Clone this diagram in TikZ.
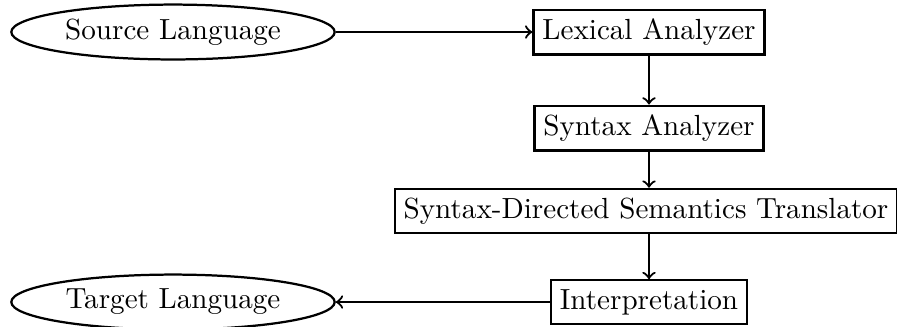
\documentclass[tikz,border=0pt]{standalone}
\usetikzlibrary{shapes.geometric}
\begin{document}
\begin{tikzpicture}[x=0.35714pt,y=-0.35714pt,
  every node/.style={font=\fontsize{10.4pt}{12.5pt}\selectfont},
  box/.style={draw,thick,rectangle,inner sep=3.2pt},
  oval/.style={draw,thick,ellipse,minimum width=115.5pt,minimum height=19.6pt,inner sep=0pt},
  conn/.style={->,thick}]
\useasboundingbox (0,0) rectangle (897,326);
\node[oval] (src) at (173,32) {Source Language};
\node[box] (lex) at (649,32) {Lexical Analyzer};
\node[box] (syn) at (649,128) {Syntax Analyzer};
\node[box] (sdst) at (646,211) {Syntax-Directed Semantics Translator};
\node[box] (interp) at (649,302) {Interpretation};
\node[oval] (tgt) at (173,302) {Target Language};
\draw[conn] (src) -- (lex);
\draw[conn] (lex) -- (syn);
\draw[conn] (syn.south -| lex) -- (sdst.north -| lex);
\draw[conn] (sdst.south -| lex) -- (interp);
\draw[conn] (interp) -- (tgt);
\end{tikzpicture}
\end{document}
